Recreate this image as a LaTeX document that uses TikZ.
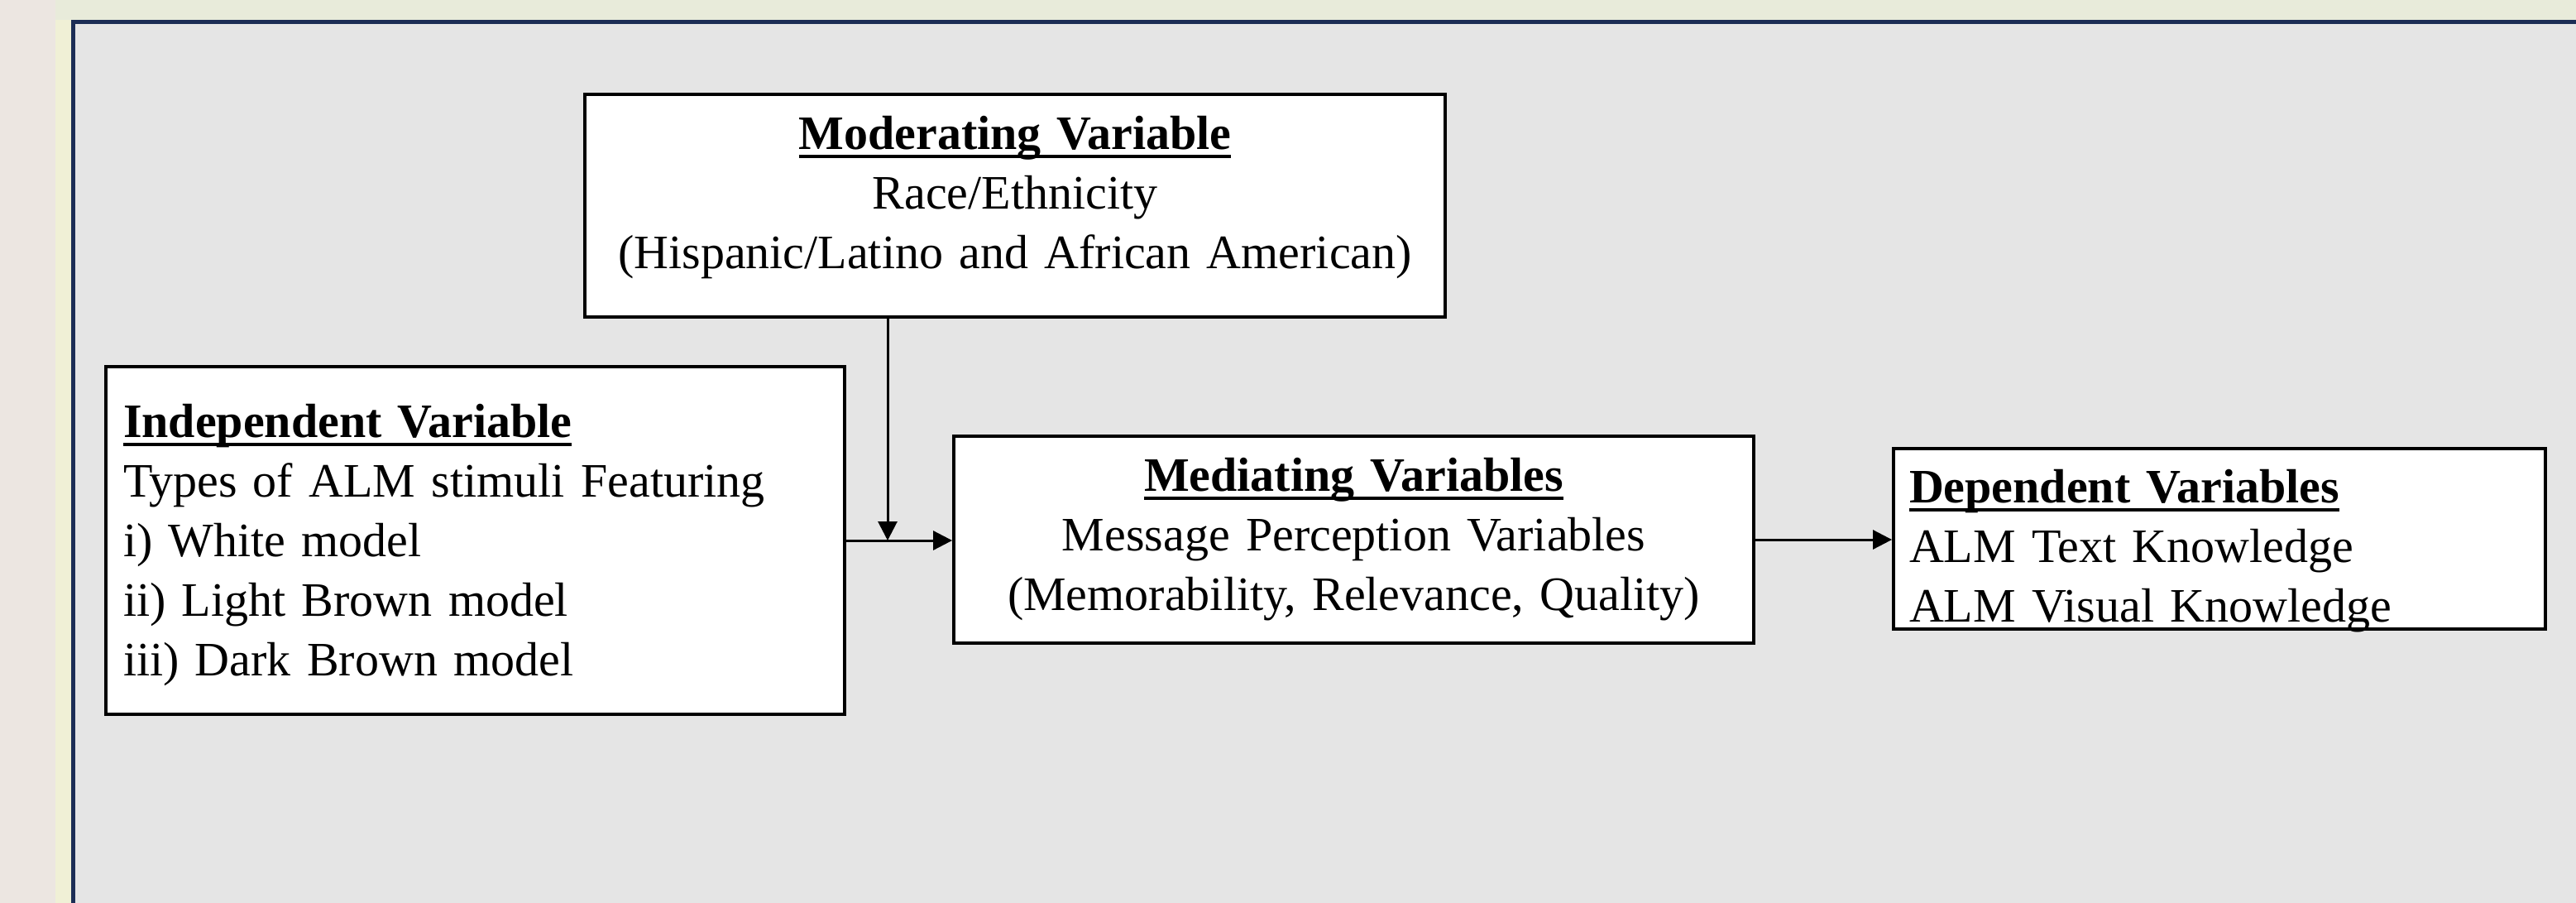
\documentclass[tikz,border=0pt]{standalone}
\usepackage{fontspec}
\setmainfont{Liberation Serif}
\usetikzlibrary{arrows.meta,positioning}
\definecolor{sidebeige}{RGB}{236,230,225}
\definecolor{topcream}{RGB}{232,235,218}
\definecolor{sidecream}{RGB}{240,240,214}
\definecolor{panelgray}{RGB}{229,229,229}
\definecolor{framenavy}{RGB}{28,45,85}
\newsavebox{\titlebox}
\newcommand{\vartitle}[1]{\sbox{\titlebox}{\bfseries #1}\rlap{\rule[-3pt]{\wd\titlebox}{0.95pt}}\usebox{\titlebox}}
\begin{document}
\begin{tikzpicture}[every node/.style={font=\fontsize{16.5}{20.5}\selectfont},
 varbox/.style={draw,line width=1.1pt,fill=white,inner ysep=0pt,text height=0.4cm}]
\useasboundingbox (0,0) rectangle (31.14,-10.91);
% page and panel
\fill[sidebeige] (0,0) rectangle (0.67,-10.91);
\fill[topcream] (0.67,0) rectangle (31.14,-0.24);
\fill[sidecream] (0.67,-0.24) rectangle (0.86,-10.91);
\fill[panelgray] (0.86,-0.24) rectangle (31.14,-10.91);
\draw[framenavy,line width=0.05cm] (0.885,-10.91)--(0.885,-0.265)--(31.14,-0.265);
% boxes
\node[varbox,minimum width=10.40cm,minimum height=2.69cm,text width=10.0cm,inner xsep=0.2cm,align=center,text depth=1.77cm] (moder) at (12.27,-2.485)
 {\vartitle{Moderating Variable}\\Race/Ethnicity\\(Hispanic/Latino and African American)};
\node[varbox,minimum width=8.93cm,minimum height=4.20cm,text width=8.51cm,inner xsep=0.21cm,align=left,text depth=2.90cm] (indep) at (5.745,-6.53)
 {\vartitle{Independent Variable}\\Types of ALM stimuli Featuring\\i) White model\\ii) Light Brown model\\iii) Dark Brown model};
\node[varbox,minimum width=9.67cm,minimum height=2.50cm,text width=9.27cm,inner xsep=0.2cm,align=center,text depth=1.58cm] (medi) at (16.365,-6.52)
 {\vartitle{Mediating Variables}\\Message Perception Variables\\(Memorability, Relevance, Quality)};
\node[varbox,minimum width=7.88cm,minimum height=2.18cm,text width=7.50cm,inner xsep=0.19cm,align=left,text depth=1.28cm] (depend) at (26.83,-6.51)
 {\vartitle{Dependent Variables}\\ALM Text Knowledge\\ALM Visual Knowledge};
% arrows
\coordinate (join) at (10.73,-6.53);
\draw[line width=0.85pt,-{Triangle[length=0.23cm,width=0.23cm]}] (moder.south -| join)--(join);
\draw[line width=0.85pt,-{Triangle[length=0.23cm,width=0.23cm]}] (indep.east)--(indep.east -| medi.west);
\draw[line width=0.85pt,-{Triangle[length=0.23cm,width=0.23cm]}] (medi.east)--(medi.east -| depend.west);
\end{tikzpicture}
\end{document}
